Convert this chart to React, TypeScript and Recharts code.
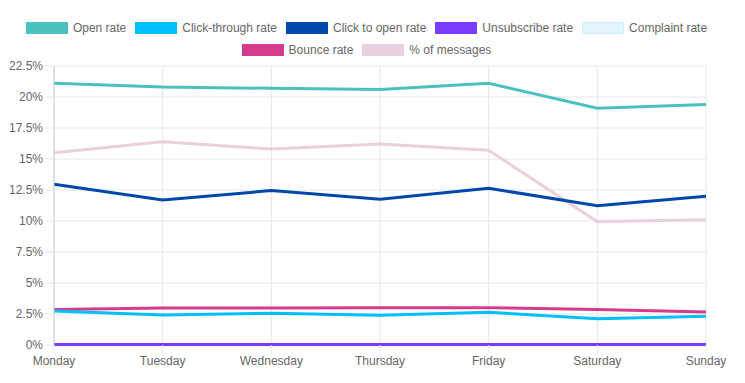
import React from "react";
import { LineChart, Line, XAxis, YAxis, CartesianGrid } from "recharts";

const days = ["Monday", "Tuesday", "Wednesday", "Thursday", "Friday", "Saturday", "Sunday"];
const openRate = [21.1, 20.8, 20.7, 20.6, 21.1, 19.1, 19.4];
const clickThroughRate = [2.74, 2.42, 2.56, 2.4, 2.64, 2.12, 2.31];
const clickToOpenRate = [12.96, 11.7, 12.45, 11.75, 12.64, 11.23, 12.0];
const unsubscribeRate = [0.05, 0.05, 0.05, 0.05, 0.05, 0.04, 0.04];
const complaintRate = [0.01, 0.01, 0.01, 0.01, 0.01, 0.01, 0.01];
const bounceRate = [2.87, 2.98, 2.98, 3.0, 3.0, 2.87, 2.66];
const pctMessages = [15.5, 16.4, 15.8, 16.2, 15.7, 9.95, 10.1];
const yTicks = [0, 2.5, 5, 7.5, 10, 12.5, 15, 17.5, 20, 22.5];

const series = [
  { key: "open", name: "Open rate", values: openRate, color: "#4bc0c0", fill: "#4bc0c0" },
  { key: "ctr", name: "Click-through rate", values: clickThroughRate, color: "#00bfff", fill: "#00bfff" },
  { key: "cto", name: "Click to open rate", values: clickToOpenRate, color: "#0047ab", fill: "#0047ab" },
  { key: "unsub", name: "Unsubscribe rate", values: unsubscribeRate, color: "#7b3cff", fill: "#7b3cff" },
  { key: "complaint", name: "Complaint rate", values: complaintRate, color: "#d6efff", fill: "#e3f5ff" },
  { key: "bounce", name: "Bounce rate", values: bounceRate, color: "#d63a8c", fill: "#d63a8c" },
  { key: "msgs", name: "% of messages", values: pctMessages, color: "#e8d0df", fill: "#e8d0df" },
];

const data = days.map((d, i) => {
  const row: Record<string, string | number> = { day: d };
  series.forEach((s) => (row[s.key] = s.values[i]));
  return row;
});

const legendRows = [series.slice(0, 5), series.slice(5)];

function LegendItem({ s }: { s: (typeof series)[number] }) {
  return (
    <div style={{ display: "flex", alignItems: "center", margin: "0 4.5px" }}>
      <div
        style={{
          width: 42,
          height: 12,
          boxSizing: "border-box",
          background: s.fill,
          border: `1px solid ${s.color === s.fill ? s.color : "#cdeeff"}`,
          marginRight: 5,
        }}
      />
      <span style={{ fontSize: 12, color: "#666", fontFamily: "'Liberation Sans', Arial, sans-serif" }}>{s.name}</span>
    </div>
  );
}

export default function App() {
  return (
    <div style={{ position: "absolute", left: 0, top: 0, width: 745, height: 383, background: "#fff" }}>
      <div style={{ position: "absolute", left: -6, top: 17, width: 745 }}>
        {legendRows.map((row, ri) => (
          <div key={ri} style={{ display: "flex", justifyContent: "center", height: 22, alignItems: "center" }}>
            {row.map((s) => (
              <LegendItem key={s.key} s={s} />
            ))}
          </div>
        ))}
      </div>
      <div style={{ position: "absolute", left: 0, top: 0 }}>
        <LineChart width={745} height={383} data={data} margin={{ top: 66, right: 39, bottom: 8, left: 0 }}>
          <CartesianGrid stroke="#e6e6e6" vertical={true} horizontal={true} />
          <XAxis
            dataKey="day"
            tickSize={8}
            tickMargin={3}
            tickLine={{ stroke: "#e6e6e6" }}
            axisLine={false}
            tick={{ fontSize: 12, fill: "#666", fontFamily: "'Liberation Sans', Arial, sans-serif" }}
            interval={0}
          />
          <YAxis
            width={54}
            domain={[0, 22.5]}
            ticks={yTicks}
            tickFormatter={(v: number) => `${v}%`}
            tickSize={8}
            tickMargin={3}
            tickLine={{ stroke: "#e6e6e6" }}
            axisLine={{ stroke: "#cfcfcf" }}
            tick={{ fontSize: 12, fill: "#666", fontFamily: "'Liberation Sans', Arial, sans-serif" }}
            interval={0}
          />
          {series
            .slice()
            .reverse()
            .map((s) => (
              <Line
                key={s.key}
                dataKey={s.key}
                name={s.name}
                type="linear"
                stroke={s.color}
                strokeWidth={3}
                dot={false}
                isAnimationActive={false}
              />
            ))}
        </LineChart>
      </div>
    </div>
  );
}
